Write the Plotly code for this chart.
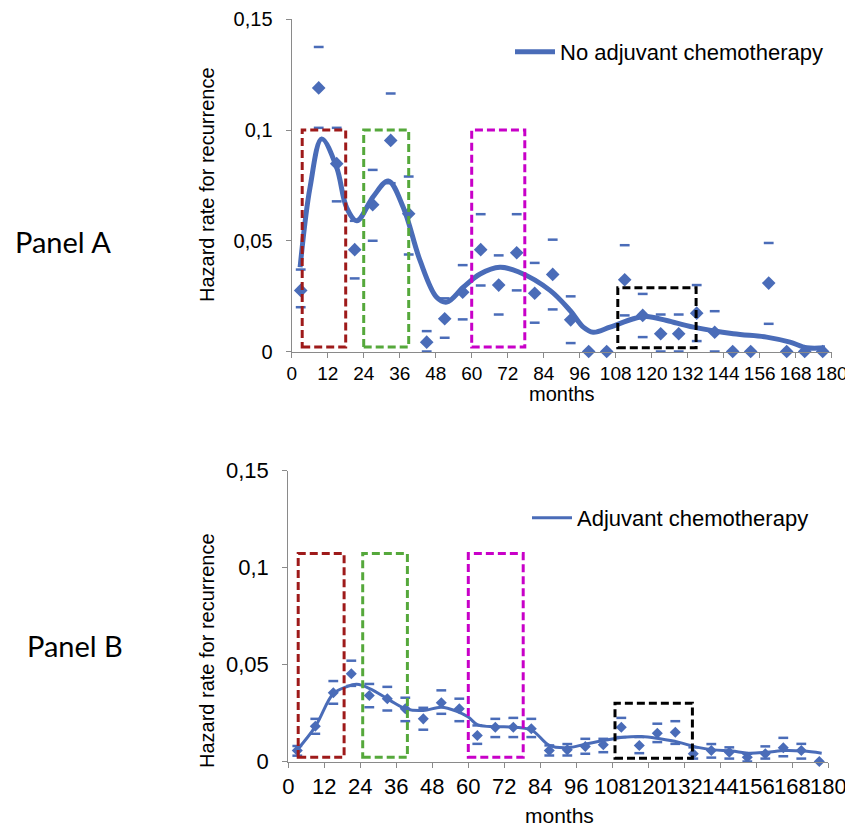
import plotly.graph_objects as go

# ---------------- data ----------------
months = [3, 9, 15, 21, 27, 33, 39, 45, 51, 57, 63, 69, 75, 81, 87, 93, 99, 105,
          111, 117, 123, 129, 135, 141, 147, 153, 159, 165, 171, 177]

# Panel A: no adjuvant chemotherapy
a_rate = [0.0276, 0.119, 0.0848, 0.046, 0.0663, 0.0953, 0.0622, 0.0042, 0.0148, 0.0268,
          0.046, 0.030, 0.0446, 0.0263, 0.0348, 0.0143, 0.0, 0.0,
          0.0324, 0.0163, 0.008, 0.008, 0.0173, 0.0087, 0.0, 0.0, 0.0309, 0.0, 0.0, 0.0]
a_upper = [0.037, 0.1375, 0.101, 0.059, 0.082, 0.1165, 0.079, 0.0092, 0.024, 0.039,
           0.062, 0.0434, 0.062, 0.040, 0.0505, 0.0249, None, None,
           0.048, 0.026, 0.0167, 0.0167, 0.030, 0.0182, None, None, 0.049, None, None, None]
a_lower = [0.020, 0.101, 0.0678, 0.033, 0.050, 0.076, 0.0438, 0.0, 0.0062, 0.0145,
           0.0298, 0.0167, 0.0276, 0.013, 0.019, 0.0038, None, None,
           0.0163, 0.0065, 0.0, 0.0, 0.0047, 0.0, None, None, 0.0125, None, None, None]
a_smooth_x = [2.8, 6.1, 10, 15, 18.3, 21.7, 27.2, 32.2, 37.2, 42.8, 48.3, 51.7, 57.2,
              62.8, 69.4, 75.5, 86.1, 92.8, 97.2, 100.5, 106.1, 113.9, 118.3, 125,
              133.9, 147.2, 158.3, 166.1, 171.7, 177.8]
a_smooth_y = [0.038, 0.074, 0.096, 0.083, 0.065, 0.059, 0.070, 0.077, 0.065, 0.041,
              0.0245, 0.0223, 0.029, 0.035, 0.038, 0.036, 0.0276, 0.0185, 0.011, 0.0087,
              0.011, 0.0148, 0.0158, 0.014, 0.011, 0.008, 0.0065, 0.0042, 0.0017, 0.0017]

# Panel B: adjuvant chemotherapy
b_rate = [0.0057, 0.0182, 0.0355, 0.0453, 0.034, 0.0324, 0.0272, 0.022, 0.0303, 0.0272,
          0.0134, 0.0177, 0.0177, 0.0169, 0.0057, 0.006, 0.0077, 0.0086,
          0.0177, 0.0083, 0.0146, 0.0151, 0.004, 0.0057, 0.0048, 0.0022, 0.004, 0.0071, 0.0057, 0.0]
b_upper = [0.008, 0.022, 0.0415, 0.052, 0.040, 0.0385, 0.0329, 0.0277, 0.0367, 0.0324,
           0.0186, 0.022, 0.0225, 0.022, 0.0083, 0.009, 0.0117, 0.0117,
           0.0225, 0.0126, 0.0195, 0.0208, 0.0073, 0.009, 0.0073, 0.004, 0.0078, 0.0122, 0.0091, None]
b_lower = [0.003, 0.0143, 0.0298, 0.039, 0.028, 0.0263, 0.0208, 0.0164, 0.0246, 0.0208,
           0.0091, 0.0126, 0.0126, 0.0126, 0.0031, 0.0031, 0.004, 0.0048,
           0.0126, 0.0043, 0.010, 0.0091, 0.0015, 0.002, 0.0015, 0.0, 0.0015, 0.0027, 0.0015, None]
b_smooth_x = [2.8, 9, 15, 19.3, 22.8, 27.3, 33.9, 39.5, 45, 51, 56, 60, 63, 67.2, 75.6,
              81.3, 87, 93, 99.5, 105.3, 111.7, 117.8, 123.9, 130, 136.1, 141.7, 147.8,
              153.3, 159.5, 165.6, 171.7, 177.8]
b_smooth_y = [0.0057, 0.018, 0.035, 0.0385, 0.0398, 0.0375, 0.0315, 0.027, 0.0263, 0.028,
              0.026, 0.0229, 0.019, 0.018, 0.0177, 0.016, 0.0083, 0.0071, 0.0091, 0.0108,
              0.0125, 0.0129, 0.0117, 0.010, 0.0074, 0.006, 0.0054, 0.0043, 0.0048, 0.0057,
              0.0054, 0.0043]

x_ticks = list(range(0, 181, 12))
y_ticks = [0, 0.05, 0.1, 0.15]
y_tick_text = ["0", "0,05", "0,1", "0,15"]

legend_a = "No adjuvant chemotherapy"
legend_b = "Adjuvant chemotherapy"
panel_a = "Panel A"
panel_b = "Panel B"
y_title = "Hazard rate for recurrence"
x_title = "months"

# highlight boxes (x0, x1, y0, y1, colour)
boxes_a = [(3.5, 18, 0.002, 0.1, "#9E1A1A"), (24, 39, 0.002, 0.1, "#55A83B"),
           (60, 77.7, 0.002, 0.1, "#C800C8"), (108.7, 134.8, 0.0017, 0.0288, "#000000")]
boxes_b = [(3.3, 18.6, 0.0022, 0.1073, "#9E1A1A"), (24.8, 39.7, 0.0022, 0.1073, "#55A83B"),
           (60, 78.3, 0.0022, 0.1073, "#C800C8"), (108.9, 134.7, 0.0017, 0.0301, "#000000")]

# ---------------- figure ----------------
PAGE_MARGIN = 8          # default body margin of the html page
W, H = 853 - PAGE_MARGIN, 826 - PAGE_MARGIN
BLUE = "#4A6CB8"
FONT = "Liberation Sans, Arial, sans-serif"

fig = go.Figure()

def add_panel(xa, ya, legend, name, rate, up, lo, sx, sy, lw, dsize, esize):
    fig.add_trace(go.Scatter(x=sx, y=sy, mode="lines", name=name,
                             line=dict(color=BLUE, width=lw, shape="spline", smoothing=1.0),
                             xaxis=xa, yaxis=ya, legend=legend, showlegend=True,
                             cliponaxis=False))
    fig.add_trace(go.Scatter(x=months, y=up, mode="markers", showlegend=False,
                             marker=dict(symbol="line-ew", size=esize, color=BLUE,
                                         line=dict(color=BLUE, width=2.5)),
                             xaxis=xa, yaxis=ya, cliponaxis=False))
    fig.add_trace(go.Scatter(x=months, y=lo, mode="markers", showlegend=False,
                             marker=dict(symbol="line-ew", size=esize, color=BLUE,
                                         line=dict(color=BLUE, width=2.5)),
                             xaxis=xa, yaxis=ya, cliponaxis=False))
    fig.add_trace(go.Scatter(x=months, y=rate, mode="markers", showlegend=False,
                             marker=dict(symbol="diamond", size=dsize, color=BLUE),
                             xaxis=xa, yaxis=ya, cliponaxis=False))

add_panel("x", "y", "legend", legend_a, a_rate, a_upper, a_lower, a_smooth_x, a_smooth_y, 5, 10.5, 7)
add_panel("x2", "y2", "legend2", legend_b, b_rate, b_upper, b_lower, b_smooth_x, b_smooth_y, 3, 8.5, 7)

for boxes, xr, yr in ((boxes_a, "x", "y"), (boxes_b, "x2", "y2")):
    for x0, x1, y0, y1, c in boxes:
        fig.add_shape(type="rect", xref=xr, yref=yr, x0=x0, x1=x1, y0=y0, y1=y1,
                      line=dict(color=c, width=3, dash="8px,4px"), fillcolor="rgba(0,0,0,0)",
                      layer="above")

def px_x(p):
    return (p - PAGE_MARGIN) / W

def px_y(p):
    return 1 - (p - PAGE_MARGIN) / H

axis_common = dict(showgrid=False, zeroline=False, showline=True, linecolor="#8A8A8A",
                   linewidth=1.3, ticks="outside", tickcolor="#8A8A8A", tickwidth=1.3,
                   ticklen=5, automargin=False)

fig.update_layout(
    width=W, height=H, margin=dict(l=0, r=0, t=0, b=0, autoexpand=False),
    paper_bgcolor="white", plot_bgcolor="white",
    font=dict(family=FONT, color="#000000"),
    xaxis=dict(domain=[px_x(291.7), px_x(831.7)], range=[0, 180], tickvals=x_ticks,
               tickangle=0, tickfont=dict(size=19), anchor="y", **axis_common),
    yaxis=dict(domain=[px_y(351.5), px_y(19.3)], range=[0, 0.15], tickvals=y_ticks,
               ticktext=y_tick_text, tickfont=dict(size=20), anchor="x",
               ticklabelstandoff=9, **axis_common),
    xaxis2=dict(domain=[px_x(288.3), px_x(828.3)], range=[0, 180], tickvals=x_ticks,
                tickangle=0, tickfont=dict(size=22), anchor="y2", **axis_common),
    yaxis2=dict(domain=[px_y(761.5), px_y(470.7)], range=[0, 0.15], tickvals=y_ticks,
                ticktext=y_tick_text, tickfont=dict(size=22), anchor="x2",
                ticklabelstandoff=9, **axis_common),
    legend=dict(x=px_x(510), y=px_y(31), xanchor="left", yanchor="top",
                bgcolor="rgba(0,0,0,0)", font=dict(size=22, family=FONT), itemwidth=40),
    legend2=dict(x=px_x(527), y=px_y(497), xanchor="left", yanchor="top",
                 bgcolor="rgba(0,0,0,0)", font=dict(size=22, family=FONT), itemwidth=40),
    showlegend=True,
)

annots = [
    dict(text=panel_a, x=px_x(13), y=px_y(241), xanchor="left", yanchor="middle",
         font=dict(family="Lato, Open Sans, sans-serif", size=29)),
    dict(text=panel_b, x=px_x(25), y=px_y(645), xanchor="left", yanchor="middle",
         font=dict(family="Lato, Open Sans, sans-serif", size=29)),
    dict(text=y_title, x=px_x(207), y=px_y(185), xanchor="center", yanchor="middle",
         textangle=-90, font=dict(size=20)),
    dict(text=y_title, x=px_x(207), y=px_y(651), xanchor="center", yanchor="middle",
         textangle=-90, font=dict(size=20)),
    dict(text=x_title, x=px_x(562), y=px_y(394), xanchor="center", yanchor="middle",
         font=dict(size=20)),
    dict(text=x_title, x=px_x(559), y=px_y(815), xanchor="center", yanchor="middle",
         font=dict(size=21)),
]
for a in annots:
    fig.add_annotation(xref="paper", yref="paper", showarrow=False, **a)

fig.write_html("out.html")
